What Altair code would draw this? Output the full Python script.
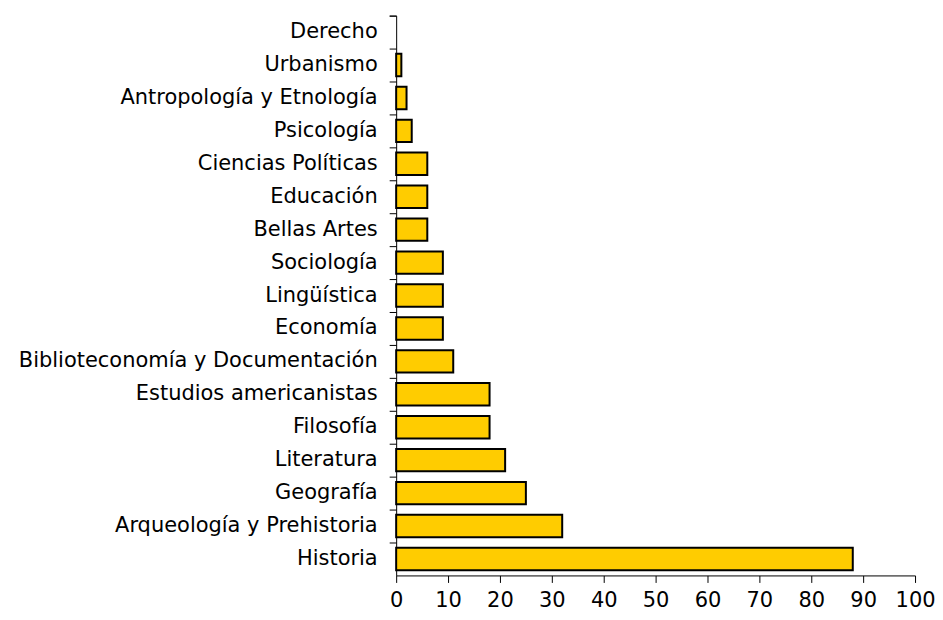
import altair as alt
import pandas as pd

categories = [
    "Derecho", "Urbanismo", "Antropología y Etnología", "Psicología",
    "Ciencias Políticas", "Educación", "Bellas Artes", "Sociología",
    "Lingüística", "Economía", "Biblioteconomía y Documentación",
    "Estudios americanistas", "Filosofía", "Literatura", "Geografía",
    "Arqueología y Prehistoria", "Historia",
]
values = [0, 1, 2, 3, 6, 6, 6, 9, 9, 9, 11, 18, 18, 21, 25, 32, 88]
x_ticks = [0, 10, 20, 30, 40, 50, 60, 70, 80, 90, 100]

df = pd.DataFrame({"area": categories, "n": values})

FONT = "DejaVu Sans"

chart = alt.Chart(df).mark_bar(
    color="#FFCC00", stroke="#000000", strokeWidth=2, height={"band": 0.68}
).encode(
    y=alt.Y(
        "area:N",
        sort=categories,
        scale=alt.Scale(paddingInner=0, paddingOuter=0),
        axis=alt.Axis(
            title=None, bandPosition=0, tickExtra=True, tickSize=7,
            tickColor="#000000", domainColor="#000000", labelPadding=12,
            labelFont=FONT, labelFontSize=21, labelColor="#000000",
            labelLimit=1000,
        ),
    ),
    x=alt.X(
        "n:Q",
        scale=alt.Scale(domain=[0, 100], nice=False),
        axis=alt.Axis(
            title=None, values=x_ticks, grid=False, tickSize=7,
            tickColor="#000000", domainColor="#000000", labelPadding=7,
            labelFont=FONT, labelFontSize=21, labelColor="#000000",
            labelFlush=False, labelOverlap=False,
        ),
    ),
    strokeOpacity=alt.condition(alt.datum.n > 0, alt.value(1), alt.value(0)),
).properties(
    width=520,
    height=561,
    autosize=alt.AutoSizeParams(type="none"),
    padding={"left": 389, "top": 7, "right": 20, "bottom": 36},
).configure_view(stroke=None)

chart.save("out.html", embed_options={"renderer": "svg", "actions": False})
